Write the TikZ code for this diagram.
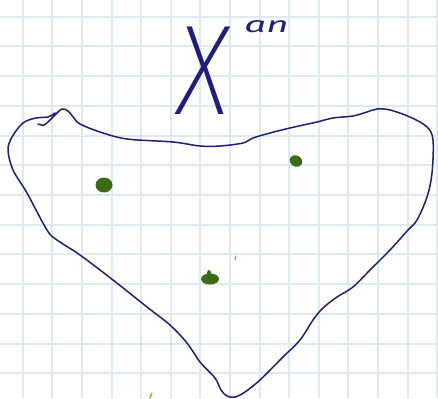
\documentclass[tikz,border=0pt]{standalone}
\usepackage{fontspec}
\usepackage{tikz}
\usetikzlibrary{positioning}
\newfontfamily\handfont{Fira Sans ExtraLight}
\newfontfamily\smallhand{Fira Sans}
\definecolor{inkblue}{RGB}{32,30,122}
\definecolor{dotgreen}{RGB}{58,108,24}
\definecolor{gridblue}{RGB}{222,235,238}
\definecolor{markorange}{RGB}{238,112,44}

\begin{document}
\begin{tikzpicture}[x=1pt,y=-1pt]
      % Define styles for the sketch
      \tikzset{
        gridline/.style={gridblue, line width=2pt},
        blobline/.style={inkblue, line width=1.5pt, line cap=round, line join=round},
        greendot/.style={fill=dotgreen, draw=none},
        orangemark/.style={markorange, line width=1.2pt, line cap=round},
        handtext/.style={text=inkblue, inner sep=0pt}
      }

      % Paper background and grid
      \useasboundingbox (0,0) rectangle (438,398);
      \fill[white] (0,0) rectangle (438,398);
      \foreach \i in {0,...,14} {
        \draw[gridline] (22.7+29.6*\i,0) -- (22.7+29.6*\i,398);
      }
      \foreach \j in {0,...,13} {
        \draw[gridline] (0,16.8+29.7*\j) -- (438,16.8+29.7*\j);
      }

      % Title written above the outline
      \node[handtext, font=\handfont\itshape\fontsize{128}{128}\selectfont, xscale=0.8] (xsym) at (203,71) {X};
      \node[handtext, font=\smallhand\itshape\fontsize{22}{22}\selectfont, xscale=1.75, anchor=west] (ansym) at (244,27) {an};

      % The closed outline
      \draw[blobline] plot[smooth, tension=0.55] coordinates {
        (38,124) (44,125) (50,120) (56,114) (62,109) (68,111) (74,118) (80,124)
        (100,132) (127,139) (173,142) (200,146) (220,146) (243,143) (253,138)
        (270,133) (290,128) (317,122) (333,118) (353,116) (367,112) (377,109)
        (390,110) (410,117) (427,127) (433,140) (432,173) (427,197) (417,220)
        (408,230) (390,250) (370,270) (353,287) (337,297) (323,308) (313,320)
        (300,340) (283,357) (260,380) (245,392) (235,397) (227,396) (221,390)
        (215,378) (200,362) (187,343) (170,325) (147,307) (113,280) (80,255)
        (57,240) (47,230) (27,193) (13,170) (8,150) (12,137) (23,123) (36,118)
        (48,117) (55,113)
      };

      % Points inside the outline
      \fill[greendot] (104,185) ellipse [x radius=8.5, y radius=7.5];
      \fill[greendot, rotate around={-30:(296,161)}] (296,161) ellipse [x radius=6.5, y radius=5.5];
      \fill[greendot] (210,279) ellipse [x radius=9, y radius=5.5];
      \fill[greendot] (209,273) ellipse [x radius=2, y radius=3];

      % Small stray marks
      \draw[orangemark] (236,256) -- (235,260);
      \draw[orangemark] (152,393) -- (150,398);
    \end{tikzpicture}
\end{document}
